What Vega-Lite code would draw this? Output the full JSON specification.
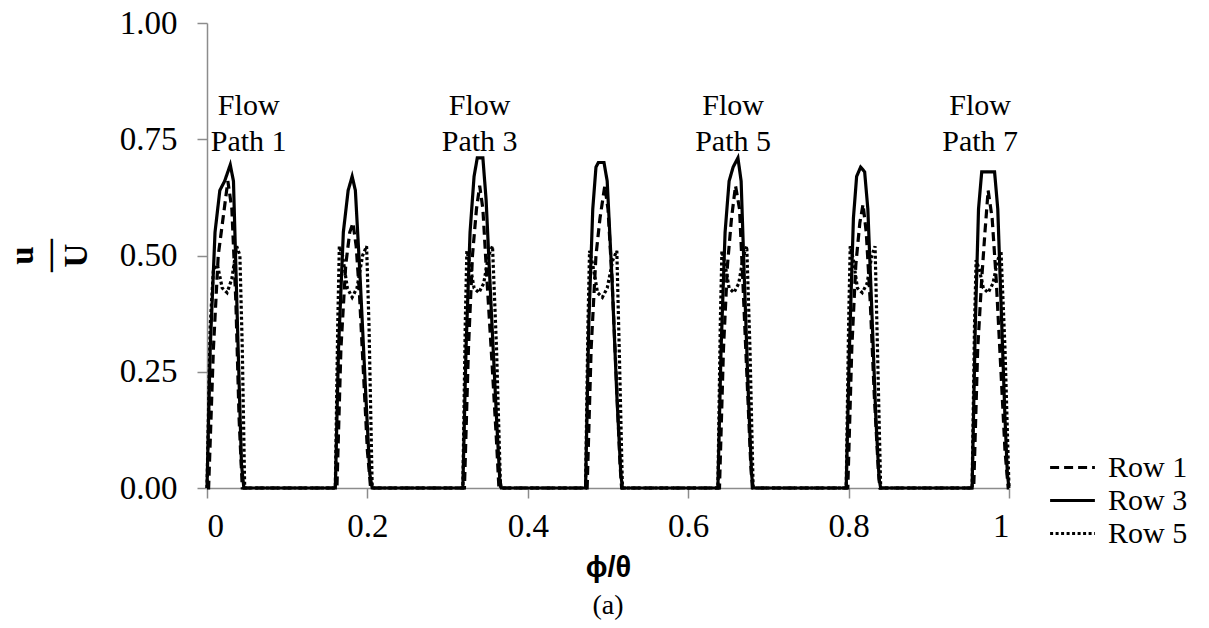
{
  "$schema": "https://vega.github.io/schema/vega-lite/v6.json",
  "width": 802,
  "height": 465,
  "autosize": {"type": "none"},
  "padding": {"left": 207, "top": 23, "right": 200, "bottom": 140},
  "background": "white",
  "config": {
    "view": {"stroke": null},
    "font": "Liberation Serif",
    "axis": {
      "grid": false,
      "domainColor": "#8c8c8c",
      "domainWidth": 1.5,
      "tickColor": "#8c8c8c",
      "tickWidth": 1.5,
      "tickSize": 10,
      "labelFont": "Liberation Serif",
      "labelFontSize": 33,
      "labelColor": "black",
      "titleColor": "black"
    }
  },
  "title": {
    "text": "(a)",
    "orient": "bottom",
    "anchor": "middle",
    "font": "Liberation Serif",
    "fontSize": 28,
    "fontWeight": "normal",
    "color": "black",
    "offset": 10
  },
  "layer": [
    {
      "data": {
        "values": [
          {"x": 0.000, "u": 0, "r": "Row 5"}, {"x": 0.004, "u": 0.35, "r": "Row 5"}, {"x": 0.008, "u": 0.47, "r": "Row 5"}, {"x": 0.013, "u": 0.48, "r": "Row 5"}, {"x": 0.019, "u": 0.43, "r": "Row 5"}, {"x": 0.025, "u": 0.42, "r": "Row 5"}, {"x": 0.031, "u": 0.45, "r": "Row 5"}, {"x": 0.037, "u": 0.52, "r": "Row 5"}, {"x": 0.041, "u": 0.50, "r": "Row 5"}, {"x": 0.044, "u": 0.30, "r": "Row 5"}, {"x": 0.047, "u": 0, "r": "Row 5"},
          {"x": 0.160, "u": 0, "r": "Row 5"}, {"x": 0.163, "u": 0.35, "r": "Row 5"}, {"x": 0.165, "u": 0.52, "r": "Row 5"}, {"x": 0.169, "u": 0.50, "r": "Row 5"}, {"x": 0.175, "u": 0.43, "r": "Row 5"}, {"x": 0.181, "u": 0.41, "r": "Row 5"}, {"x": 0.187, "u": 0.43, "r": "Row 5"}, {"x": 0.194, "u": 0.50, "r": "Row 5"}, {"x": 0.199, "u": 0.52, "r": "Row 5"}, {"x": 0.202, "u": 0.35, "r": "Row 5"}, {"x": 0.206, "u": 0, "r": "Row 5"},
          {"x": 0.319, "u": 0, "r": "Row 5"}, {"x": 0.322, "u": 0.35, "r": "Row 5"}, {"x": 0.324, "u": 0.51, "r": "Row 5"}, {"x": 0.328, "u": 0.48, "r": "Row 5"}, {"x": 0.333, "u": 0.43, "r": "Row 5"}, {"x": 0.339, "u": 0.42, "r": "Row 5"}, {"x": 0.345, "u": 0.44, "r": "Row 5"}, {"x": 0.351, "u": 0.50, "r": "Row 5"}, {"x": 0.356, "u": 0.52, "r": "Row 5"}, {"x": 0.361, "u": 0.30, "r": "Row 5"}, {"x": 0.366, "u": 0, "r": "Row 5"},
          {"x": 0.472, "u": 0, "r": "Row 5"}, {"x": 0.475, "u": 0.35, "r": "Row 5"}, {"x": 0.477, "u": 0.51, "r": "Row 5"}, {"x": 0.481, "u": 0.48, "r": "Row 5"}, {"x": 0.487, "u": 0.42, "r": "Row 5"}, {"x": 0.493, "u": 0.41, "r": "Row 5"}, {"x": 0.499, "u": 0.43, "r": "Row 5"}, {"x": 0.506, "u": 0.49, "r": "Row 5"}, {"x": 0.511, "u": 0.51, "r": "Row 5"}, {"x": 0.514, "u": 0.30, "r": "Row 5"}, {"x": 0.518, "u": 0, "r": "Row 5"},
          {"x": 0.637, "u": 0, "r": "Row 5"}, {"x": 0.640, "u": 0.35, "r": "Row 5"}, {"x": 0.642, "u": 0.51, "r": "Row 5"}, {"x": 0.646, "u": 0.48, "r": "Row 5"}, {"x": 0.651, "u": 0.43, "r": "Row 5"}, {"x": 0.657, "u": 0.42, "r": "Row 5"}, {"x": 0.663, "u": 0.44, "r": "Row 5"}, {"x": 0.669, "u": 0.50, "r": "Row 5"}, {"x": 0.673, "u": 0.52, "r": "Row 5"}, {"x": 0.677, "u": 0.30, "r": "Row 5"}, {"x": 0.681, "u": 0, "r": "Row 5"},
          {"x": 0.797, "u": 0, "r": "Row 5"}, {"x": 0.800, "u": 0.35, "r": "Row 5"}, {"x": 0.802, "u": 0.52, "r": "Row 5"}, {"x": 0.806, "u": 0.49, "r": "Row 5"}, {"x": 0.811, "u": 0.43, "r": "Row 5"}, {"x": 0.817, "u": 0.42, "r": "Row 5"}, {"x": 0.823, "u": 0.44, "r": "Row 5"}, {"x": 0.829, "u": 0.50, "r": "Row 5"}, {"x": 0.833, "u": 0.52, "r": "Row 5"}, {"x": 0.836, "u": 0.30, "r": "Row 5"}, {"x": 0.840, "u": 0, "r": "Row 5"},
          {"x": 0.954, "u": 0, "r": "Row 5"}, {"x": 0.957, "u": 0.35, "r": "Row 5"}, {"x": 0.959, "u": 0.49, "r": "Row 5"}, {"x": 0.963, "u": 0.47, "r": "Row 5"}, {"x": 0.968, "u": 0.43, "r": "Row 5"}, {"x": 0.974, "u": 0.42, "r": "Row 5"}, {"x": 0.980, "u": 0.44, "r": "Row 5"}, {"x": 0.986, "u": 0.49, "r": "Row 5"}, {"x": 0.990, "u": 0.51, "r": "Row 5"}, {"x": 0.995, "u": 0.30, "r": "Row 5"}, {"x": 1.000, "u": 0, "r": "Row 5"},

          {"x": 0.000, "u": 0, "r": "Row 1"}, {"x": 0.002, "u": 0, "r": "Row 1"}, {"x": 0.008, "u": 0.30, "r": "Row 1"}, {"x": 0.014, "u": 0.50, "r": "Row 1"}, {"x": 0.020, "u": 0.58, "r": "Row 1"}, {"x": 0.026, "u": 0.66, "r": "Row 1"}, {"x": 0.031, "u": 0.60, "r": "Row 1"}, {"x": 0.036, "u": 0.40, "r": "Row 1"}, {"x": 0.040, "u": 0.15, "r": "Row 1"}, {"x": 0.044, "u": 0, "r": "Row 1"},
          {"x": 0.162, "u": 0, "r": "Row 1"}, {"x": 0.167, "u": 0.30, "r": "Row 1"}, {"x": 0.173, "u": 0.48, "r": "Row 1"}, {"x": 0.178, "u": 0.55, "r": "Row 1"}, {"x": 0.182, "u": 0.57, "r": "Row 1"}, {"x": 0.186, "u": 0.52, "r": "Row 1"}, {"x": 0.190, "u": 0.42, "r": "Row 1"}, {"x": 0.195, "u": 0.25, "r": "Row 1"}, {"x": 0.200, "u": 0.08, "r": "Row 1"}, {"x": 0.204, "u": 0, "r": "Row 1"},
          {"x": 0.321, "u": 0, "r": "Row 1"}, {"x": 0.326, "u": 0.30, "r": "Row 1"}, {"x": 0.331, "u": 0.50, "r": "Row 1"}, {"x": 0.336, "u": 0.60, "r": "Row 1"}, {"x": 0.340, "u": 0.65, "r": "Row 1"}, {"x": 0.344, "u": 0.60, "r": "Row 1"}, {"x": 0.349, "u": 0.45, "r": "Row 1"}, {"x": 0.355, "u": 0.28, "r": "Row 1"}, {"x": 0.361, "u": 0.10, "r": "Row 1"}, {"x": 0.364, "u": 0, "r": "Row 1"},
          {"x": 0.474, "u": 0, "r": "Row 1"}, {"x": 0.479, "u": 0.30, "r": "Row 1"}, {"x": 0.485, "u": 0.50, "r": "Row 1"}, {"x": 0.490, "u": 0.58, "r": "Row 1"}, {"x": 0.496, "u": 0.65, "r": "Row 1"}, {"x": 0.500, "u": 0.60, "r": "Row 1"}, {"x": 0.505, "u": 0.45, "r": "Row 1"}, {"x": 0.510, "u": 0.25, "r": "Row 1"}, {"x": 0.515, "u": 0.05, "r": "Row 1"}, {"x": 0.517, "u": 0, "r": "Row 1"},
          {"x": 0.639, "u": 0, "r": "Row 1"}, {"x": 0.644, "u": 0.30, "r": "Row 1"}, {"x": 0.649, "u": 0.48, "r": "Row 1"}, {"x": 0.654, "u": 0.58, "r": "Row 1"}, {"x": 0.659, "u": 0.65, "r": "Row 1"}, {"x": 0.664, "u": 0.60, "r": "Row 1"}, {"x": 0.668, "u": 0.45, "r": "Row 1"}, {"x": 0.673, "u": 0.25, "r": "Row 1"}, {"x": 0.678, "u": 0.05, "r": "Row 1"}, {"x": 0.680, "u": 0, "r": "Row 1"},
          {"x": 0.799, "u": 0, "r": "Row 1"}, {"x": 0.804, "u": 0.30, "r": "Row 1"}, {"x": 0.809, "u": 0.48, "r": "Row 1"}, {"x": 0.814, "u": 0.57, "r": "Row 1"}, {"x": 0.818, "u": 0.61, "r": "Row 1"}, {"x": 0.822, "u": 0.55, "r": "Row 1"}, {"x": 0.827, "u": 0.40, "r": "Row 1"}, {"x": 0.832, "u": 0.20, "r": "Row 1"}, {"x": 0.837, "u": 0.04, "r": "Row 1"}, {"x": 0.839, "u": 0, "r": "Row 1"},
          {"x": 0.956, "u": 0, "r": "Row 1"}, {"x": 0.961, "u": 0.30, "r": "Row 1"}, {"x": 0.966, "u": 0.45, "r": "Row 1"}, {"x": 0.970, "u": 0.55, "r": "Row 1"}, {"x": 0.974, "u": 0.64, "r": "Row 1"}, {"x": 0.979, "u": 0.58, "r": "Row 1"}, {"x": 0.984, "u": 0.45, "r": "Row 1"}, {"x": 0.990, "u": 0.25, "r": "Row 1"}, {"x": 0.995, "u": 0.08, "r": "Row 1"}, {"x": 0.999, "u": 0, "r": "Row 1"}, {"x": 1.000, "u": 0, "r": "Row 1"},

          {"x": 0.000, "u": 0, "r": "Row 3"}, {"x": 0.004, "u": 0.30, "r": "Row 3"}, {"x": 0.010, "u": 0.55, "r": "Row 3"}, {"x": 0.016, "u": 0.64, "r": "Row 3"}, {"x": 0.022, "u": 0.66, "r": "Row 3"}, {"x": 0.029, "u": 0.695, "r": "Row 3"}, {"x": 0.033, "u": 0.66, "r": "Row 3"}, {"x": 0.038, "u": 0.35, "r": "Row 3"}, {"x": 0.043, "u": 0.05, "r": "Row 3"}, {"x": 0.046, "u": 0, "r": "Row 3"},
          {"x": 0.160, "u": 0, "r": "Row 3"}, {"x": 0.164, "u": 0.30, "r": "Row 3"}, {"x": 0.170, "u": 0.55, "r": "Row 3"}, {"x": 0.176, "u": 0.64, "r": "Row 3"}, {"x": 0.181, "u": 0.67, "r": "Row 3"}, {"x": 0.185, "u": 0.64, "r": "Row 3"}, {"x": 0.191, "u": 0.45, "r": "Row 3"}, {"x": 0.198, "u": 0.20, "r": "Row 3"}, {"x": 0.203, "u": 0.03, "r": "Row 3"}, {"x": 0.206, "u": 0, "r": "Row 3"},
          {"x": 0.319, "u": 0, "r": "Row 3"}, {"x": 0.323, "u": 0.30, "r": "Row 3"}, {"x": 0.328, "u": 0.55, "r": "Row 3"}, {"x": 0.333, "u": 0.67, "r": "Row 3"}, {"x": 0.337, "u": 0.71, "r": "Row 3"}, {"x": 0.344, "u": 0.71, "r": "Row 3"}, {"x": 0.348, "u": 0.62, "r": "Row 3"}, {"x": 0.354, "u": 0.40, "r": "Row 3"}, {"x": 0.361, "u": 0.15, "r": "Row 3"}, {"x": 0.365, "u": 0.02, "r": "Row 3"}, {"x": 0.367, "u": 0, "r": "Row 3"},
          {"x": 0.472, "u": 0, "r": "Row 3"}, {"x": 0.476, "u": 0.35, "r": "Row 3"}, {"x": 0.481, "u": 0.60, "r": "Row 3"}, {"x": 0.485, "u": 0.69, "r": "Row 3"}, {"x": 0.488, "u": 0.70, "r": "Row 3"}, {"x": 0.495, "u": 0.70, "r": "Row 3"}, {"x": 0.499, "u": 0.66, "r": "Row 3"}, {"x": 0.505, "u": 0.45, "r": "Row 3"}, {"x": 0.511, "u": 0.20, "r": "Row 3"}, {"x": 0.516, "u": 0.03, "r": "Row 3"}, {"x": 0.518, "u": 0, "r": "Row 3"},
          {"x": 0.637, "u": 0, "r": "Row 3"}, {"x": 0.641, "u": 0.30, "r": "Row 3"}, {"x": 0.646, "u": 0.55, "r": "Row 3"}, {"x": 0.651, "u": 0.66, "r": "Row 3"}, {"x": 0.656, "u": 0.69, "r": "Row 3"}, {"x": 0.662, "u": 0.71, "r": "Row 3"}, {"x": 0.666, "u": 0.66, "r": "Row 3"}, {"x": 0.670, "u": 0.45, "r": "Row 3"}, {"x": 0.675, "u": 0.20, "r": "Row 3"}, {"x": 0.679, "u": 0.03, "r": "Row 3"}, {"x": 0.681, "u": 0, "r": "Row 3"},
          {"x": 0.797, "u": 0, "r": "Row 3"}, {"x": 0.801, "u": 0.30, "r": "Row 3"}, {"x": 0.806, "u": 0.58, "r": "Row 3"}, {"x": 0.810, "u": 0.67, "r": "Row 3"}, {"x": 0.815, "u": 0.69, "r": "Row 3"}, {"x": 0.820, "u": 0.68, "r": "Row 3"}, {"x": 0.824, "u": 0.60, "r": "Row 3"}, {"x": 0.829, "u": 0.38, "r": "Row 3"}, {"x": 0.834, "u": 0.15, "r": "Row 3"}, {"x": 0.838, "u": 0.02, "r": "Row 3"}, {"x": 0.840, "u": 0, "r": "Row 3"},
          {"x": 0.954, "u": 0, "r": "Row 3"}, {"x": 0.958, "u": 0.35, "r": "Row 3"}, {"x": 0.962, "u": 0.60, "r": "Row 3"}, {"x": 0.966, "u": 0.68, "r": "Row 3"}, {"x": 0.982, "u": 0.68, "r": "Row 3"}, {"x": 0.986, "u": 0.60, "r": "Row 3"}, {"x": 0.990, "u": 0.40, "r": "Row 3"}, {"x": 0.995, "u": 0.15, "r": "Row 3"}, {"x": 0.998, "u": 0.03, "r": "Row 3"}, {"x": 1.000, "u": 0, "r": "Row 3"}
        ]
      },
      "mark": {"type": "line", "color": "black", "strokeWidth": 3.2, "clip": false},
      "encoding": {
        "x": {
          "field": "x", "type": "quantitative",
          "scale": {"domain": [0, 1], "nice": false},
          "axis": {
            "values": [0, 0.2, 0.4, 0.6, 0.8, 1],
            "format": "~g",
            "labelPadding": 12,
            "title": "ϕ/θ",
            "titleFont": "Liberation Sans",
            "titleFontSize": 29,
            "titleFontWeight": "bold",
            "titlePadding": 10
          }
        },
        "y": {
          "field": "u", "type": "quantitative",
          "scale": {"domain": [0, 1], "nice": false},
          "axis": {
            "values": [0, 0.25, 0.5, 0.75, 1],
            "format": ".2f",
            "labelPadding": 20,
            "title": ["u", "—", "U"],
            "titleFont": "Liberation Serif",
            "titleFontSize": 33,
            "titleFontWeight": "bold",
            "titleLineHeight": 27,
            "titleAngle": -90,
            "titleBaseline": "middle",
            "titleAlign": "center",
            "titleX": -185,
            "titleY": 232
          }
        },
        "strokeDash": {
          "field": "r", "type": "nominal",
          "scale": {"domain": ["Row 1", "Row 3", "Row 5"], "range": [[9, 5], [1, 0], [3, 2.5]]},
          "legend": {
            "orient": "none",
            "legendX": 848,
            "legendY": 427,
            "title": null,
            "padding": 0,
            "labelFont": "Liberation Serif",
            "labelFontSize": 30,
            "labelColor": "black",
            "labelOffset": 18,
            "symbolType": "M-1.4,0H1.4",
            "symbolSize": 1024,
            "symbolStrokeWidth": 3,
            "symbolStrokeColor": "black",
            "symbolFillColor": "transparent",
            "rowPadding": 0
          }
        },
        "order": {"field": "x", "type": "quantitative"}
      }
    },
    {
      "data": {
        "values": [
          {"x": 0.052, "u": 0.8215, "t": "Flow\nPath 1"},
          {"x": 0.340, "u": 0.8215, "t": "Flow\nPath 3"},
          {"x": 0.656, "u": 0.8215, "t": "Flow\nPath 5"},
          {"x": 0.964, "u": 0.8215, "t": "Flow\nPath 7"}
        ]
      },
      "mark": {"type": "text", "font": "Liberation Serif", "fontSize": 30, "lineHeight": 36, "lineBreak": "\n", "baseline": "middle", "align": "center", "color": "black"},
      "encoding": {
        "x": {"field": "x", "type": "quantitative"},
        "y": {"field": "u", "type": "quantitative"},
        "text": {"field": "t", "type": "nominal"}
      }
    }
  ]
}
